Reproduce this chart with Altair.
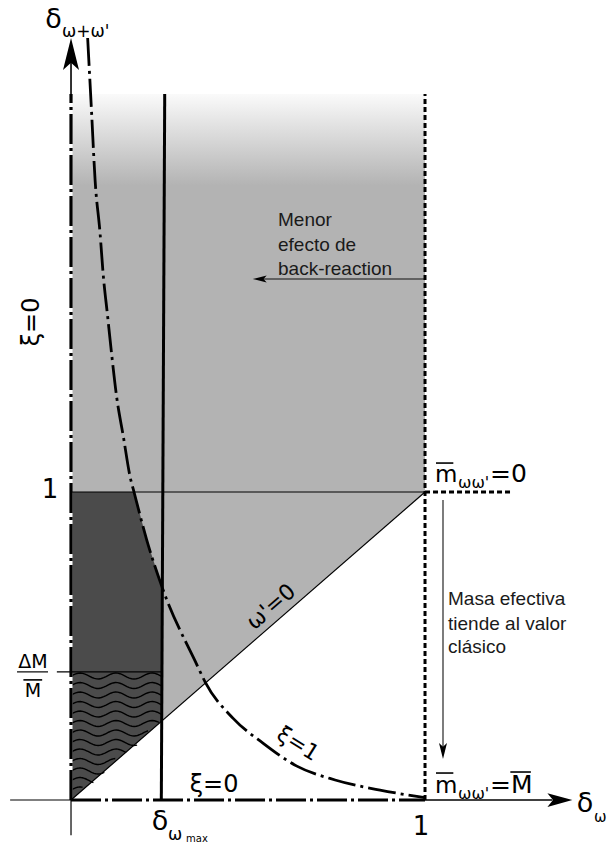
import altair as alt
import numpy as np
import pandas as pd

# ---------------- data (diagram units: x = delta_omega, y = delta_omega+omega') ----------------
XI1_X = [0.047, 0.058, 0.068, 0.082, 0.091, 0.103, 0.115, 0.129, 0.148, 0.167, 0.178, 0.214,
         0.257, 0.356, 0.379, 0.458, 0.543, 0.638, 0.746, 0.873, 1.0]
XI1_Y = [2.474, 2.235, 2.013, 1.841, 1.705, 1.575, 1.445, 1.308, 1.179, 1.049, 1.0, 0.844,
         0.692, 0.438, 0.383, 0.265, 0.184, 0.110, 0.065, 0.032, 0.008]

DELTA_MAX = 0.257      # delta_omega_max
DM_OVER_M = 0.416      # Delta M / M
TOP = 2.292            # top of shaded region
ONE = 1.0

WAVE_LEVELS = [0.4026, 0.3717, 0.3409, 0.3101, 0.2792, 0.2484, 0.2175, 0.1867,
               0.1558, 0.1250, 0.0942, 0.0633, 0.0325]
WAVE_AMP = 0.0097
WAVE_LEN = 0.1017

# segments: (x, y, x2, y2)
THIN_SEGS = [(0, -0.114, 0, 0), (-0.172, 0, 0, 0), (0, 1, 1, 1), (-0.04, DM_OVER_M, DELTA_MAX, DM_OVER_M),
             (0, 0, 1, 1), (-0.1525, DM_OVER_M, -0.065, DM_OVER_M)]
MED_SEGS = [(1, 0, 1.36, 0), (0, TOP, 0, 2.40)]
ARROW_SEGS = [(1, 1.6916, 0.53, 1.6916), (1.0508, 0.974, 1.0508, 0.17)]
THICK_SEGS = [(0.2551, 0, 0.2647, TOP)]
DASHDOT_SEGS = [(0, 0, 0, TOP), (0, 0, 1, 0)]
DASHED_SEGS = [(1, 0, 1, TOP), (1, 1, 1.2458, 1)]
# overbars of m and M
BAR_SEGS = [(1.031, 1.094, 1.080, 1.094), (1.031, 0.0876, 1.080, 0.0876),
            (1.241, 0.0909, 1.299, 0.0909), (-0.1345, 0.390, -0.0815, 0.390)]

UP = "M0,-1L0.5,1L0,0.55L-0.5,1Z"
RIGHT = "M1,0L-1,0.55L-0.55,0L-1,-0.55Z"
LEFT = "M-1,0L1,-0.5L0.55,0L1,0.5Z"
DOWN = "M0,1L-0.5,-1L0,-0.55L0.5,-1Z"
HEADS = [(0, 2.422, UP, 1024), (1.381, 0, RIGHT, 625), (0.533, 1.6916, LEFT, 196), (1.0508, 0.159, DOWN, 256)]

MATH = "DejaVu Sans"
PROSE = "Liberation Sans"
# text, x, y, size, align, angle, baseline, font
LABELS = [
    ("δ", -0.0494, 2.5065, 27, "center", 0, "alphabetic", MATH),
    ("ω+ω'", -0.0254, 2.477, 17, "left", 0, "alphabetic", MATH),
    ("1", -0.0593, 0.9805, 26, "center", 0, "alphabetic", MATH),
    ("ξ=0", -0.1102, 1.552, 24, "center", 270, "middle", MATH),
    ("ΔM", -0.1073, 0.4286, 19, "center", 0, "alphabetic", MATH),
    ("M", -0.1073, 0.3344, 19, "center", 0, "alphabetic", MATH),
    ("δ", 0.2514, -0.0974, 27, "center", 0, "alphabetic", MATH),
    ("ω", 0.274, -0.1299, 17, "left", 0, "alphabetic", MATH),
    ("max", 0.3249, -0.1364, 10, "left", 0, "alphabetic", MATH),
    ("ξ=0", 0.404, 0.026, 24, "center", 0, "alphabetic", MATH),
    ("1", 0.9887, -0.1136, 26, "center", 0, "alphabetic", MATH),
    ("δ", 1.452, -0.039, 27, "center", 0, "alphabetic", MATH),
    ("ω", 1.4774, -0.0714, 15, "left", 0, "alphabetic", MATH),
    ("m", 1.0282, 1.0325, 23, "left", 0, "alphabetic", MATH),
    ("ωω'", 1.0932, 1.013, 16, "left", 0, "alphabetic", MATH),
    ("=0", 1.1836, 1.0325, 25, "left", 0, "alphabetic", MATH),
    ("m", 1.0282, 0.0227, 23, "left", 0, "alphabetic", MATH),
    ("ωω'", 1.0932, 0.0032, 16, "left", 0, "alphabetic", MATH),
    ("=M", 1.1836, 0.0227, 25, "left", 0, "alphabetic", MATH),
    ("ω'=0", 0.565, 0.627, 22, "center", 319, "middle", MATH),
    ("ξ=1", 0.641, 0.182, 22, "center", 32, "middle", MATH),
    ("Menor", 0.5847, 1.8636, 19, "left", 0, "alphabetic", PROSE),
    ("efecto de", 0.5847, 1.7825, 19, "left", 0, "alphabetic", PROSE),
    ("back-reaction", 0.5847, 1.7045, 19, "left", 0, "alphabetic", PROSE),
    ("Masa efectiva", 1.065, 0.6331, 19, "left", 0, "alphabetic", PROSE),
    ("tiende al valor", 1.065, 0.5519, 19, "left", 0, "alphabetic", PROSE),
    ("clásico", 1.065, 0.4773, 19, "left", 0, "alphabetic", PROSE),
]

# ---------------- scales ----------------
xs = alt.Scale(domain=[-0.2006, 1.5169], nice=False, zero=False)
ys = alt.Scale(domain=[-0.2045, 2.5974], nice=False, zero=False)


def X(f):
    return alt.X(f, type="quantitative", scale=xs, axis=None)


def Y(f):
    return alt.Y(f, type="quantitative", scale=ys, axis=None)


def seg_layer(segs, **mark):
    df = pd.DataFrame(segs, columns=["x", "y", "x2", "y2"])
    return alt.Chart(df).mark_rule(**mark).encode(x=X("x"), y=Y("y"), x2="x2", y2="y2")


layers = []

# gradient top region
top_df = pd.DataFrame({"x": [0], "x2": [ONE], "y": [ONE], "y2": [TOP]})
grad = alt.Gradient(gradient="linear", x1=0, x2=0, y1=0, y2=1,
                    stops=[alt.GradientStop(color="#fafafa", offset=0),
                           alt.GradientStop(color="#b3b3b3", offset=0.23),
                           alt.GradientStop(color="#b3b3b3", offset=1)])
layers.append(alt.Chart(top_df).mark_rect(color=grad).encode(x=X("x"), x2="x2", y=Y("y"), y2="y2"))

# light gray triangle above the diagonal
tri = pd.DataFrame({"x": [0, ONE], "y": [0, ONE], "y2": [ONE, ONE]})
layers.append(alt.Chart(tri).mark_area(color="#b3b3b3").encode(x=X("x"), y=Y("y"), y2="y2"))

# dark region (left of xi=1 curve, above DeltaM/M)
dk_x = [0.0] + [x for x in XI1_X if x <= DELTA_MAX]
dk_y2 = [ONE] + [min(ONE, y) for x, y in zip(XI1_X, XI1_Y) if x <= DELTA_MAX]
dark = pd.DataFrame({"x": dk_x, "y": [DM_OVER_M] * len(dk_x), "y2": dk_y2})
layers.append(alt.Chart(dark).mark_area(color="#4b4b4b").encode(x=X("x"), y=Y("y"), y2="y2"))

# hatched dark region (above diagonal, below DeltaM/M)
hat = pd.DataFrame({"x": [0, DELTA_MAX], "y": [0, DELTA_MAX], "y2": [DM_OVER_M, DM_OVER_M]})
layers.append(alt.Chart(hat).mark_area(color="#4b4b4b").encode(x=X("x"), y=Y("y"), y2="y2"))

# wavy hatching (decorative texture)
rows = []
for i, lv in enumerate(WAVE_LEVELS):
    xe = min(DELTA_MAX, lv)
    for t in np.linspace(0, xe, 40):
        rows.append({"lv": i, "x": t, "y": lv + WAVE_AMP * np.sin(2 * np.pi * t / WAVE_LEN)})
waves = pd.DataFrame(rows)
layers.append(alt.Chart(waves).mark_line(color="black", strokeWidth=1.4).encode(
    x=X("x"), y=Y("y"), detail="lv:N", order="x:Q"))

# lines
layers.append(seg_layer([(0, 0, 0, TOP)], color="white", strokeWidth=3))
layers.append(seg_layer(THIN_SEGS, color="black", strokeWidth=1.2))
layers.append(seg_layer(MED_SEGS, color="black", strokeWidth=1.6))
layers.append(seg_layer(ARROW_SEGS, color="#111111", strokeWidth=1.1))
layers.append(seg_layer(THICK_SEGS, color="black", strokeWidth=3))
layers.append(seg_layer(DASHDOT_SEGS, color="black", strokeWidth=3.2, strokeDash=[30, 4, 3, 4]))
layers.append(seg_layer(DASHED_SEGS, color="black", strokeWidth=3, strokeDash=[5, 3]))
layers.append(seg_layer(BAR_SEGS, color="black", strokeWidth=1.6))

# xi = 1 curve
curve = pd.DataFrame({"x": XI1_X, "y": XI1_Y})
layers.append(alt.Chart(curve).mark_line(color="black", strokeWidth=2.8, strokeDash=[28, 5, 3, 5],
                                         interpolate="monotone").encode(x=X("x"), y=Y("y")))

# arrowheads
for hx, hy, shp, sz in HEADS:
    hd = pd.DataFrame({"x": [hx], "y": [hy]})
    layers.append(alt.Chart(hd).mark_point(shape=shp, size=sz, filled=True, color="black",
                                           opacity=1, strokeWidth=0).encode(x=X("x"), y=Y("y")))

# labels
for txt, lx, ly, fs, al, ang, bl, fnt in LABELS:
    ld = pd.DataFrame({"x": [lx], "y": [ly], "t": [txt]})
    col = "#1a1a1a" if fnt == PROSE else "black"
    layers.append(alt.Chart(ld).mark_text(fontSize=fs, align=al, angle=ang, baseline=bl, font=fnt,
                                          color=col).encode(x=X("x"), y=Y("y"), text="t:N"))

chart = alt.layer(*layers).properties(
    width=608, height=863, autosize=alt.AutoSizeParams(type="none"), padding=0,
    background="white"
).configure_view(stroke=None)

chart.save("out.html", embed_options={"renderer": "svg", "actions": False})
